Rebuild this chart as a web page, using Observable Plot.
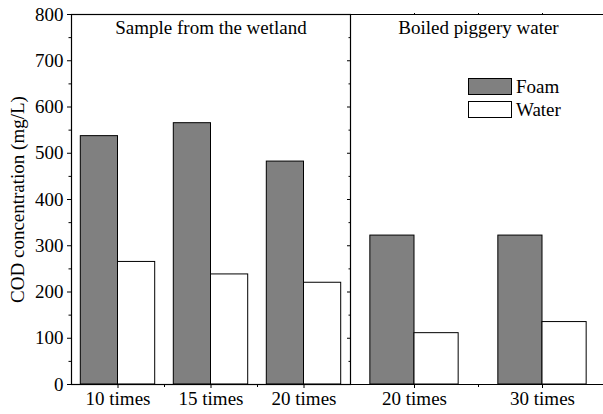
<!DOCTYPE html>
<html>
<head>
<meta charset="utf-8">
<script src="https://cdn.jsdelivr.net/npm/d3@7"></script>
<script src="https://cdn.jsdelivr.net/npm/@observablehq/plot@0.6"></script>
<style>
  html, body { margin: 0; padding: 0; background: white; }
  #wrap { position: relative; width: 603px; height: 414px; overflow: hidden; font-family: "Liberation Serif", "Times New Roman", serif; }
  #left, #right { position: absolute; top: 0; height: 414px; }
  #left { left: 0; width: 350px; }
  #right { left: 350px; width: 256px; }
  #wrap svg { max-width: none !important; }
  #legend { position: absolute; left: 468px; top: 75px; font-size: 19px; color: black; }
  .item { display: flex; align-items: center; height: 23px; }
  .sw { width: 42px; height: 15px; border: 1px solid black; margin-right: 4px; box-sizing: content-box; }
  svg text { font-family: "Liberation Serif", "Times New Roman", serif !important; }
</style>
</head>
<body>
<div id="wrap">
  <div id="left"></div>
  <div id="right"></div>
  <div id="legend"></div>
</div>
<script>
// ---- data ----
const leftCats = ["10 times", "15 times", "20 times"];
const leftFoam = [537, 565, 482];
const leftWater = [265, 238, 220];
const rightCats = ["20 times", "30 times"];
const rightFoam = [322, 322];
const rightWater = [111, 135];
const seriesNames = ["Foam", "Water"];
const seriesColors = ["#808080", "#ffffff"];
const panelTitles = ["Sample from the wetland", "Boiled piggery water"];
const yLabel = "COD concentration (mg/L)";
const yMajor = [0, 100, 200, 300, 400, 500, 600, 700, 800];
const yMinor = [50, 150, 250, 350, 450, 550, 650, 750];

function rows(cats, foam, water) {
  return cats.flatMap((c, i) => [
    {cat: c, pos: i + 1, series: seriesNames[0], value: foam[i]},
    {cat: c, pos: i + 1, series: seriesNames[1], value: water[i]}
  ]);
}

const FF = "Liberation Serif, Times New Roman, serif";
const font = {fontFamily: FF, fontSize: "19px", background: "transparent", overflow: "visible", color: "black"};
const color = {domain: seriesNames, range: seriesColors};

// ---- left panel ----
const leftData = rows(leftCats, leftFoam, leftWater);
const wL = 0.4;
const leftPos = leftCats.map((_, i) => i + 1);
const leftMid = leftPos.slice(0, -1).map(p => p + 0.5);
const left = Plot.plot({
  width: 350, height: 414,
  marginLeft: 71, marginRight: 0, marginTop: 14, marginBottom: 30,
  style: font,
  x: {domain: [0.5, leftCats.length + 0.5]},
  y: {domain: [0, 800]},
  color,
  marks: [
    Plot.rectY(leftData, {
      x1: d => d.series === seriesNames[0] ? d.pos - wL : d.pos,
      x2: d => d.series === seriesNames[0] ? d.pos : d.pos + wL,
      y: "value", fill: "series", stroke: "black", strokeWidth: 1
    }),
    Plot.frame({stroke: "black", strokeWidth: 1.2}),
    Plot.axisY({ticks: yMajor, tickSize: 4, tickPadding: 4, fontSize: 19, fontFamily: FF, fontVariant: "normal", label: yLabel, labelAnchor: "center", labelArrow: "none", labelOffset: 61}),
    Plot.axisY({ticks: yMinor, tickSize: 2.5, tickFormat: () => "", label: null}),
    Plot.axisY({anchor: "right", ticks: yMajor, tickSize: -4, tickFormat: () => "", label: null}),
    Plot.axisY({anchor: "right", ticks: yMinor, tickSize: -2.5, tickFormat: () => "", label: null}),
    Plot.axisX({ticks: leftPos, tickSize: 4, tickPadding: 3, fontSize: 19, fontFamily: FF, fontVariant: "normal", tickFormat: p => leftCats[p - 1], label: null}),
    Plot.axisX({ticks: leftMid, tickSize: 3, tickFormat: () => "", label: null}),
    Plot.text([panelTitles[0]], {frameAnchor: "top", lineAnchor: "top", dy: 6, fontSize: 19, fontFamily: FF, fill: "black"})
  ]
});
document.getElementById("left").appendChild(left);

// ---- right panel ----
const rightData = rows(rightCats, rightFoam, rightWater);
const wR = 0.345;
const rightPos = rightCats.map((_, i) => i + 1);
const rightMid = rightPos.slice(0, -1).map(p => p + 0.5);
const right = Plot.plot({
  width: 256, height: 414,
  marginLeft: 0, marginRight: 0, marginTop: 14, marginBottom: 30,
  style: font,
  x: {domain: [0.5, rightCats.length + 0.5]},
  y: {domain: [0, 800], axis: null},
  color,
  marks: [
    Plot.rectY(rightData, {
      x1: d => d.series === seriesNames[0] ? d.pos - wR : d.pos,
      x2: d => d.series === seriesNames[0] ? d.pos : d.pos + wR,
      y: "value", fill: "series", stroke: "black", strokeWidth: 1
    }),
    Plot.ruleY([0, 800], {stroke: "black", strokeWidth: 1.2}),
    Plot.axisX({ticks: rightPos, tickSize: 4, tickPadding: 3, fontSize: 19, fontFamily: FF, fontVariant: "normal", tickFormat: p => rightCats[p - 1], label: null}),
    Plot.axisX({ticks: rightMid, tickSize: 3, tickFormat: () => "", label: null}),
    Plot.axisX({anchor: "top", ticks: [...rightPos, ...rightMid], tickSize: 2, tickFormat: () => "", label: null}),
    Plot.text([panelTitles[1]], {frameAnchor: "top", lineAnchor: "top", dy: 6, fontSize: 19, fontFamily: FF, fill: "black"})
  ]
});
document.getElementById("right").appendChild(right);

// ---- legend ----
const legend = document.getElementById("legend");
seriesNames.forEach((name, i) => {
  const item = document.createElement("div");
  item.className = "item";
  const sw = document.createElement("div");
  sw.className = "sw";
  sw.style.background = seriesColors[i];
  const label = document.createElement("span");
  label.textContent = name;
  item.appendChild(sw);
  item.appendChild(label);
  legend.appendChild(item);
});
</script>
</body>
</html>
